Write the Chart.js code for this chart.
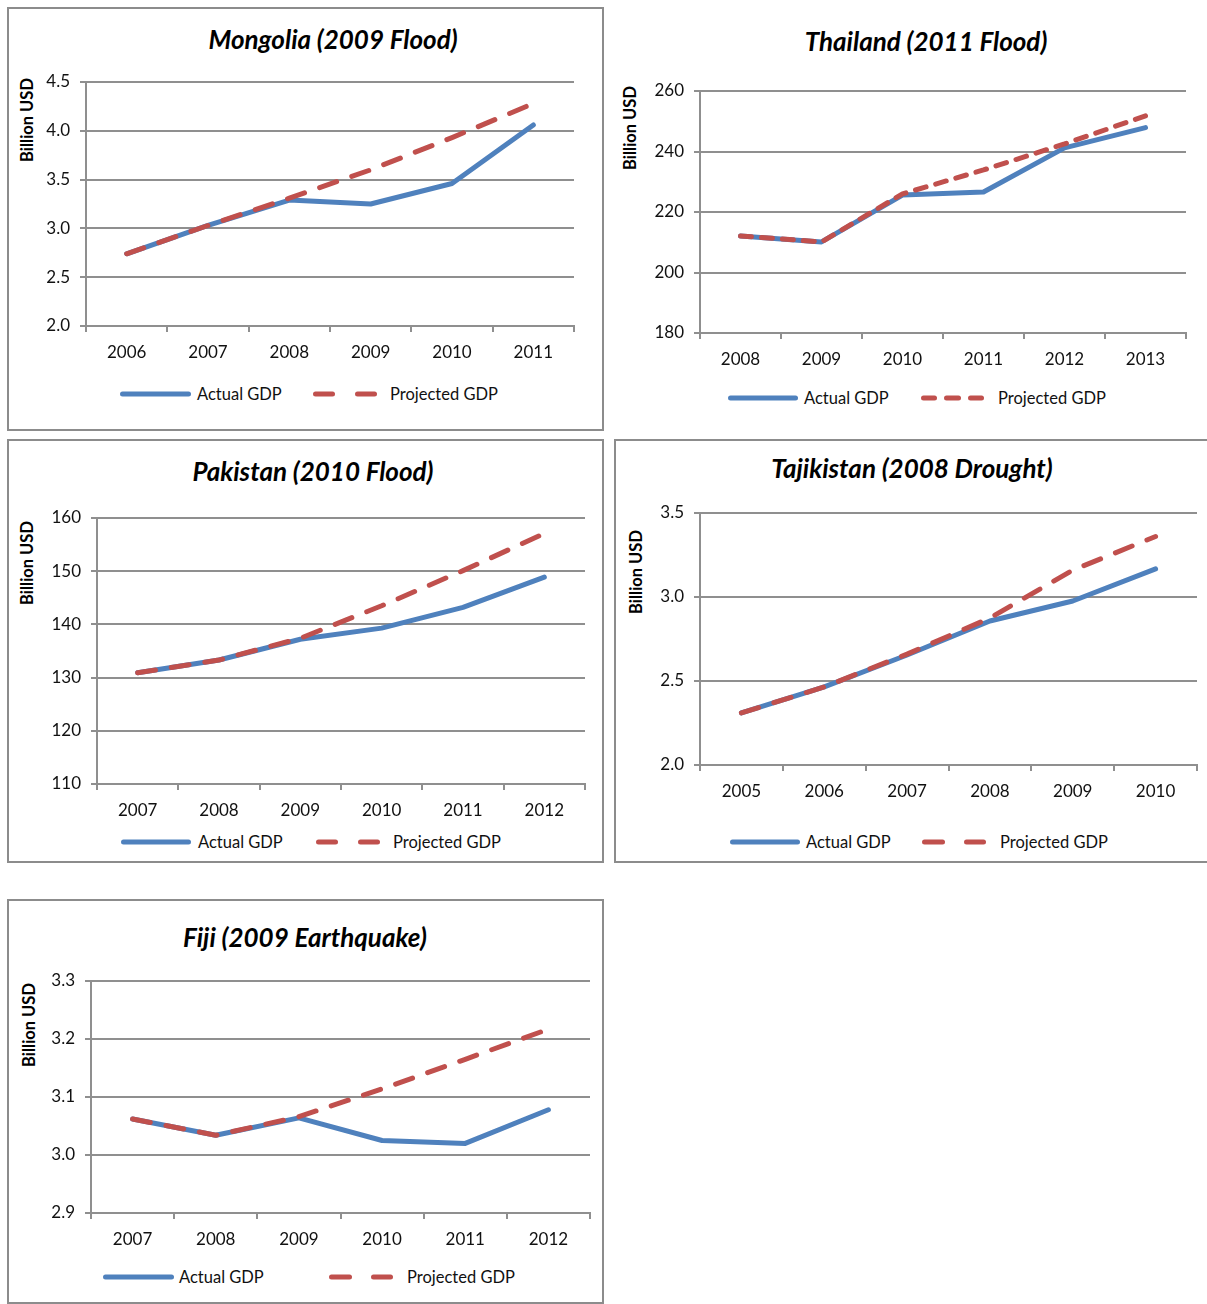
<!DOCTYPE html>
<html>
<head>
<meta charset="utf-8">
<script src="https://cdn.jsdelivr.net/npm/chart.js@4.4.1/dist/chart.umd.min.js"></script>
<style>
  html, body { margin: 0; padding: 0; background: #fff; }
  body { width: 1207px; height: 1304px; position: relative; overflow: hidden; font-family: Lato, "Open Sans", sans-serif; }
  .frame { position: absolute; box-sizing: border-box; border: 2px solid #8c8c8c; }
  .title { position: absolute; transform: translate(-50%, -50%); font: italic bold 26px Lato, sans-serif; color: #000; white-space: nowrap; }
  .ylab { position: absolute; transform: translate(-50%, -50%) rotate(-90deg); font: bold 16.5px Lato, sans-serif; color: #000; white-space: nowrap; }
  .leg { position: absolute; transform: translateY(-50%); font: 16.5px Lato, sans-serif; color: #111; white-space: nowrap; }
  .box { position: absolute; }
  .box canvas { display: block; }
  svg.legsvg { position: absolute; left: 0; top: 0; overflow: visible; }
</style>
</head>
<body>
<script>
// ---------- DATA ----------
const mongoliaYears   = ['2006', '2007', '2008', '2009', '2010', '2011'];
const mongoliaActual  = [2.74, 3.03, 3.29, 3.25, 3.46, 4.06];
const mongoliaProj    = [2.74, 3.03, 3.31, 3.60, 3.93, 4.28];

const thailandYears   = ['2008', '2009', '2010', '2011', '2012', '2013'];
const thailandActual  = [212.1, 210.1, 225.6, 226.6, 241.2, 247.9];
const thailandProj    = [212.1, 210.1, 226.0, 233.9, 242.5, 251.8];

const pakistanYears   = ['2007', '2008', '2009', '2010', '2011', '2012'];
const pakistanActual  = [130.9, 133.3, 137.2, 139.3, 143.2, 148.9];
const pakistanProj    = [130.9, 133.3, 137.4, 143.5, 150.1, 157.1];

const tajikYears      = ['2005', '2006', '2007', '2008', '2009', '2010'];
const tajikActual     = [2.31, 2.465, 2.655, 2.857, 2.976, 3.167];
const tajikProj       = [2.31, 2.465, 2.66, 2.875, 3.16, 3.36];

const fijiYears       = ['2007', '2008', '2009', '2010', '2011', '2012'];
const fijiActual      = [3.062, 3.034, 3.064, 3.025, 3.020, 3.078];
const fijiProj        = [3.062, 3.034, 3.066, 3.114, 3.165, 3.217];

const seriesNames = ['Actual GDP', 'Projected GDP'];
const yAxisTitle  = 'Billion USD';

// ---------- LAYOUT ----------
const BLUE = '#4F81BD', RED = '#C0504D', GRID = '#8f8f8f';

const panels = [
  { title: 'Mongolia (2009 Flood)', labels: mongoliaYears, actual: mongoliaActual, proj: mongoliaProj,
    min: 2.0, max: 4.5, step: 0.5, dec: 1, plot: [86, 574, 82, 326], titleAt: [333, 39], ylabAt: [27, 120],
    legY: 394, blue: [120, 191], aText: 197, dashes: [[313, 335], [355, 377]], pText: 390, dash: [18, 16],
    frame: [7, 7, 597, 424] },
  { title: 'Thailand (2011 Flood)', labels: thailandYears, actual: thailandActual, proj: thailandProj,
    min: 180, max: 260, step: 20, dec: 0, plot: [700, 1186, 91, 333], titleAt: [926, 41], ylabAt: [630, 128],
    legY: 398, blue: [728, 798], aText: 804, dashes: [[921, 937], [944, 961], [968, 984]], pText: 998, dash: [11, 10],
    frame: null },
  { title: 'Pakistan (2010 Flood)', labels: pakistanYears, actual: pakistanActual, proj: pakistanProj,
    min: 110, max: 160, step: 10, dec: 0, plot: [97, 585, 518, 784], titleAt: [313, 471], ylabAt: [27, 563],
    legY: 842, blue: [121, 191], aText: 198, dashes: [[316, 338], [358, 380]], pText: 393, dash: [18, 16],
    frame: [7, 439, 597, 424] },
  { title: 'Tajikistan (2008 Drought)', labels: tajikYears, actual: tajikActual, proj: tajikProj,
    min: 2.0, max: 3.5, step: 0.5, dec: 1, plot: [700, 1197, 513, 765], titleAt: [912, 468], ylabAt: [636, 572],
    legY: 842, blue: [730, 800], aText: 806, dashes: [[922, 945], [964, 986]], pText: 1000, dash: [18, 16],
    frame: [614, 439, 600, 424] },
  { title: 'Fiji (2009 Earthquake)', labels: fijiYears, actual: fijiActual, proj: fijiProj,
    min: 2.9, max: 3.3, step: 0.1, dec: 1, plot: [91, 590, 981, 1213], titleAt: [305, 937], ylabAt: [29, 1025],
    legY: 1277, blue: [103, 174], aText: 179, dashes: [[329, 352], [371, 393]], pText: 407, dash: [18, 16],
    frame: [7, 899, 597, 405] }
];

const YW = 60, XH = 40, TOPM = 14, PADR = 10;

function el(tag, cls, css, text) {
  const e = document.createElement(tag);
  if (cls) e.className = cls;
  Object.assign(e.style, css || {});
  if (text !== undefined) e.textContent = text;
  document.body.appendChild(e);
  return e;
}

const svgNS = 'http://www.w3.org/2000/svg';
const svg = document.createElementNS(svgNS, 'svg');
svg.setAttribute('class', 'legsvg');
svg.setAttribute('width', '1207');
svg.setAttribute('height', '1304');

function zeroPad(s) { s.paddingTop = 0; s.paddingBottom = 0; s.paddingLeft = 0; s.paddingRight = 0; }

panels.forEach((p) => {
  if (p.frame) {
    el('div', 'frame', { left: p.frame[0] + 'px', top: p.frame[1] + 'px', width: p.frame[2] + 'px', height: p.frame[3] + 'px' });
  }
  el('div', 'title', { left: p.titleAt[0] + 'px', top: p.titleAt[1] + 'px' }, p.title);
  el('div', 'ylab', { left: p.ylabAt[0] + 'px', top: p.ylabAt[1] + 'px' }, yAxisTitle);

  // legend samples
  const bl = document.createElementNS(svgNS, 'line');
  bl.setAttribute('x1', p.blue[0] + 2.5); bl.setAttribute('x2', p.blue[1] - 2.5);
  bl.setAttribute('y1', p.legY); bl.setAttribute('y2', p.legY);
  bl.setAttribute('stroke', BLUE); bl.setAttribute('stroke-width', '5'); bl.setAttribute('stroke-linecap', 'round');
  svg.appendChild(bl);
  p.dashes.forEach(d => {
    const l = document.createElementNS(svgNS, 'line');
    l.setAttribute('x1', d[0] + 2.5); l.setAttribute('x2', d[1] - 2.5);
    l.setAttribute('y1', p.legY); l.setAttribute('y2', p.legY);
    l.setAttribute('stroke', RED); l.setAttribute('stroke-width', '5'); l.setAttribute('stroke-linecap', 'round');
    svg.appendChild(l);
  });
  el('div', 'leg', { left: p.aText + 'px', top: p.legY + 'px' }, seriesNames[0]);
  el('div', 'leg', { left: p.pText + 'px', top: p.legY + 'px' }, seriesNames[1]);

  // chart
  const [L, R, T, B] = p.plot;
  const W = (R - L) + YW + PADR;
  const H = (B - T) + TOPM + XH;
  const box = el('div', 'box', { left: (L - YW) + 'px', top: (T - TOPM) + 'px', width: W + 'px', height: H + 'px' });
  const cv = document.createElement('canvas');
  cv.width = W; cv.height = H;
  cv.style.width = W + 'px'; cv.style.height = H + 'px';
  box.appendChild(cv);

  new Chart(cv.getContext('2d'), {
    type: 'line',
    data: {
      labels: p.labels,
      datasets: [
        { label: seriesNames[0], data: p.actual, borderColor: BLUE, backgroundColor: BLUE, borderWidth: 5,
          pointRadius: 0, tension: 0, borderJoinStyle: 'round', borderCapStyle: 'round', order: 2 },
        { label: seriesNames[1], data: p.proj, borderColor: RED, backgroundColor: RED, borderWidth: 5,
          borderDash: p.dash, pointRadius: 0, tension: 0, borderJoinStyle: 'round', borderCapStyle: 'round', order: 1 }
      ]
    },
    options: {
      responsive: false,
      maintainAspectRatio: false,
      animation: false,
      events: [],
      layout: { autoPadding: false, padding: { left: 0, right: PADR, top: TOPM, bottom: 0 } },
      plugins: { legend: { display: false }, title: { display: false }, tooltip: { enabled: false } },
      scales: {
        x: {
          type: 'category',
          offset: true,
          grid: { display: true, drawOnChartArea: false, drawTicks: true, tickLength: 6, offset: true, color: GRID, lineWidth: 2 },
          border: { display: true, color: GRID, width: 2 },
          ticks: { font: { family: 'Lato', size: 17 }, color: '#111', padding: 10, maxRotation: 0, autoSkip: false },
          afterFit: (s) => { s.height = XH; zeroPad(s); }
        },
        y: {
          min: p.min, max: p.max,
          grid: { display: true, drawTicks: true, tickLength: 6, color: GRID, lineWidth: 2 },
          border: { display: true, color: GRID, width: 2 },
          ticks: { stepSize: p.step, font: { family: 'Lato', size: 17 }, color: '#111', padding: 10,
                   callback: (v) => Number(v).toFixed(p.dec) },
          afterFit: (s) => { s.width = YW; zeroPad(s); }
        }
      }
    }
  });
});
document.body.appendChild(svg);
</script>
</body>
</html>
